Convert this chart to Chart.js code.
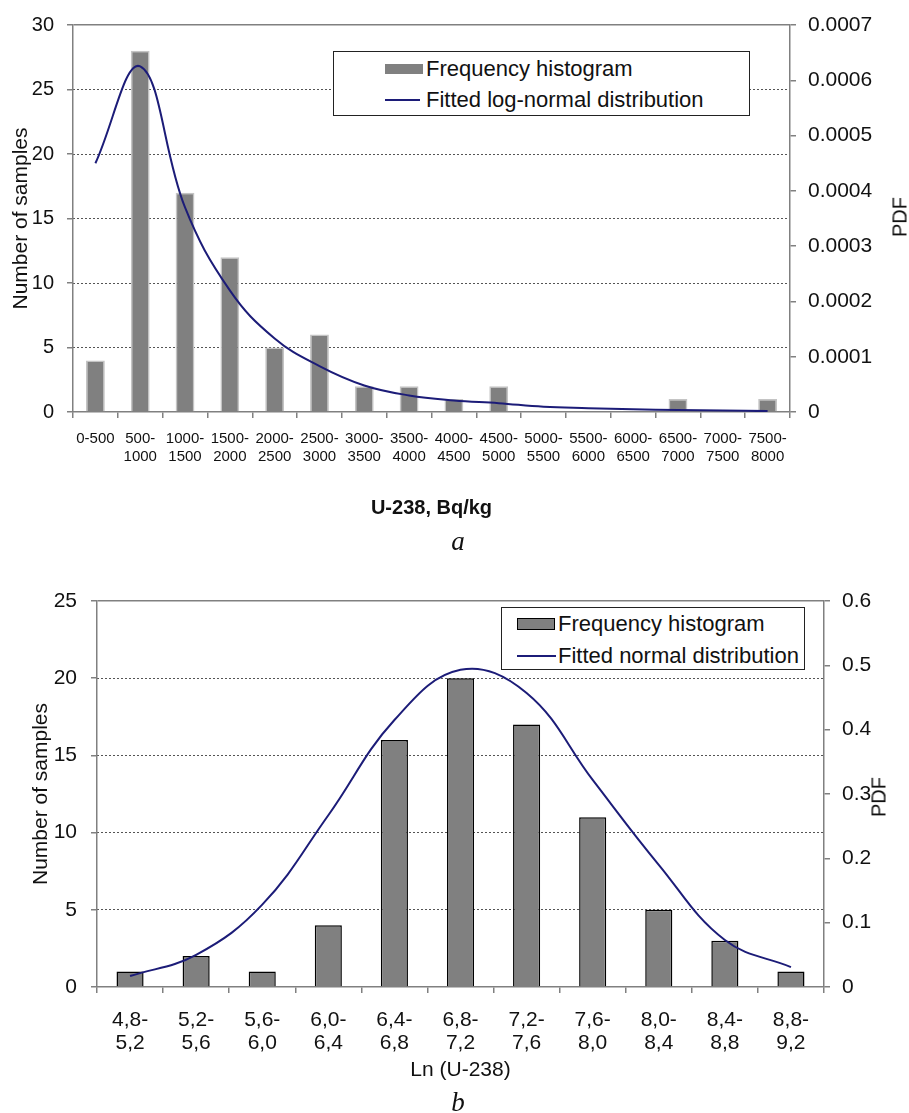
<!DOCTYPE html>
<html>
<head>
<meta charset="utf-8">
<title>U-238 histograms</title>
<script src="https://cdn.jsdelivr.net/npm/chart.js@4.4.1/dist/chart.umd.min.js"></script>
<style>
  body { margin: 0; background: #fff; width: 909px; height: 1113px; position: relative; overflow: hidden;
         font-family: 'Liberation Sans', Arial, sans-serif; color: #111; }
  .wrap { position: absolute; left: 0; width: 909px; }
  #wrap-a { top: 0; height: 530px; }
  #wrap-b { top: 560px; height: 553px; }
  .legend { position: absolute; box-sizing: border-box; border: 1px solid #222; background: #fff; font-size: 22px; }
  .legend .swatch { position: absolute; box-sizing: border-box; }
  .legend .text { position: absolute; line-height: 24px; white-space: nowrap; }
  .pdf { position: absolute; font-size: 20px; white-space: nowrap; transform: translate(-50%, -50%) rotate(-90deg); }
  .caption { position: absolute; font-family: 'Liberation Serif', 'Times New Roman', serif; font-style: italic;
             font-size: 27px; line-height: 27px; transform: translateX(-50%); }
</style>
</head>
<body>

<div class="wrap" id="wrap-a"><canvas id="chart-a"></canvas></div>
<div class="legend" id="legend-a" style="left:333px; top:51px; width:417px; height:65px;"></div>
<div class="pdf" style="left:900px; top:217px;">PDF</div>
<div class="caption" style="left:458px; top:528px;">a</div>

<div class="wrap" id="wrap-b"><canvas id="chart-b"></canvas></div>
<div class="legend" id="legend-b" style="left:501px; top:607px; width:304px; height:63px;"></div>
<div class="pdf" style="left:879px; top:797px;">PDF</div>
<div class="caption" style="left:458px; top:1089px;">b</div>

<script>
// Chart a: U-238 activity concentration, Bq/kg
const binsA = [['0-500'], ['500-', '1000'], ['1000-', '1500'], ['1500-', '2000'], ['2000-', '2500'],
  ['2500-', '3000'], ['3000-', '3500'], ['3500-', '4000'], ['4000-', '4500'], ['4500-', '5000'],
  ['5000-', '5500'], ['5500-', '6000'], ['6000-', '6500'], ['6500-', '7000'], ['7000-', '7500'], ['7500-', '8000']];
const countsA = [4, 28, 17, 12, 5, 6, 2, 2, 1, 2, 0, 0, 0, 1, 0, 1];
const pdfA = [0.00045, 0.000625, 0.00037, 0.00022, 0.000133, 0.000083, 0.000048, 0.00003,
  0.000021, 0.000016, 0.0000095, 0.000007, 0.000005, 0.0000035, 0.0000025, 0.0000016];
const countMaxA = 30, countStepA = 5;
const pdfMaxA = 0.0007, pdfStepA = 0.0001;

// Chart b: Ln (U-238)
const binsB = [['4,8-', '5,2'], ['5,2-', '5,6'], ['5,6-', '6,0'], ['6,0-', '6,4'], ['6,4-', '6,8'], ['6,8-', '7,2'],
  ['7,2-', '7,6'], ['7,6-', '8,0'], ['8,0-', '8,4'], ['8,4-', '8,8'], ['8,8-', '9,2']];
const countsB = [1, 2, 1, 4, 16, 20, 17, 11, 5, 3, 1];
const pdfB = [0.017, 0.05, 0.128, 0.267, 0.415, 0.493, 0.457, 0.322, 0.19, 0.073, 0.031];
const countMaxB = 25, countStepB = 5;
const pdfMaxB = 0.6, pdfStepB = 0.1;

const FONT = "'Liberation Sans', Arial, sans-serif";
const TEXT = '#111';
const AXIS = '#808080';
const DOTS = '#555';
const NAVY = '#1c1c78';

// hidden left axis that only draws the dotted horizontal gridlines
function dottedGrid(max, step) {
  return {
    position: 'left',
    min: 0, max: max,
    ticks: { display: false, stepSize: step },
    border: { display: false, dash: [2, 2] },
    grid: {
      drawTicks: false,
      color: ctx => (ctx.tick && ctx.tick.value > 0 && ctx.tick.value < max) ? DOTS : 'transparent'
    },
    afterFit: s => { s.width = 0; }
  };
}

function makeChart(id, cfg) {
  const ctx = document.getElementById(id).getContext('2d');
  return new Chart(ctx, {
    type: 'bar',
    data: {
      labels: cfg.labels,
      datasets: [
        {
          type: 'bar',
          label: 'Frequency histogram',
          data: cfg.counts,
          yAxisID: 'y',
          backgroundColor: '#808080',
          borderColor: cfg.barEdge,
          borderWidth: cfg.barEdgeWidth,
          barPercentage: cfg.barPct,
          categoryPercentage: 1,
          order: 1
        },
        {
          type: 'line',
          label: cfg.lineLabel,
          data: cfg.pdf,
          yAxisID: 'y1',
          borderColor: NAVY,
          borderWidth: 2,
          pointRadius: 0,
          tension: 0.4,
          fill: false,
          order: 0
        }
      ]
    },
    options: {
      responsive: true,
      maintainAspectRatio: false,
      animation: false,
      layout: { padding: { top: cfg.top, left: 0, right: 0, bottom: 0 } },
      plugins: { legend: { display: false }, tooltip: { enabled: false } },
      scales: {
        x: {
          offset: true,
          ticks: {
            autoSkip: false, maxRotation: 0, minRotation: 0, padding: cfg.xPad, color: TEXT,
            font: { family: FONT, size: cfg.xFont, lineHeight: cfg.xLine }
          },
          grid: { offset: true, drawOnChartArea: false, color: AXIS, tickLength: 6, lineWidth: 1.5 },
          border: { color: AXIS, width: 1.5 },
          title: {
            display: true, text: cfg.xTitle, color: TEXT,
            font: { family: FONT, size: cfg.xTitleFont, weight: cfg.xTitleWeight },
            padding: { top: 0, bottom: cfg.xTitlePad }
          },
          afterFit: s => { s.height = cfg.xHeight; }
        },
        grid: dottedGrid(cfg.countMax, cfg.countStep),
        y: {
          position: 'left',
          min: 0, max: cfg.countMax,
          ticks: { stepSize: cfg.countStep, padding: cfg.yPad, color: TEXT, font: { family: FONT, size: cfg.yFont } },
          grid: {
            color: ctx => (ctx.tick && ctx.tick.value === cfg.countMax) ? AXIS : 'transparent',
            tickColor: AXIS, tickLength: 6, lineWidth: 1.5
          },
          border: { color: AXIS, width: 1.5 },
          title: {
            display: true, text: 'Number of samples', color: TEXT,
            font: { family: FONT, size: 21 },
            padding: { top: cfg.yTitlePad, bottom: 0 }
          },
          afterFit: s => { s.width = cfg.left; }
        },
        y1: {
          position: 'right',
          min: 0, max: cfg.pdfMax,
          ticks: {
            stepSize: cfg.pdfStep, padding: 12, color: TEXT, font: { family: FONT, size: 21 },
            callback: v => v === 0 ? '0' : v.toFixed(cfg.pdfDigits)
          },
          grid: { drawOnChartArea: false, color: AXIS, tickLength: 6, lineWidth: 1.5 },
          border: { color: AXIS, width: 1.5 },
          afterFit: s => { s.width = cfg.right; }
        }
      }
    }
  });
}

// legend drawn as html inside the plot, built from the chart datasets
function buildLegend(chart, boxId, pos) {
  const box = document.getElementById(boxId);
  chart.data.datasets.forEach((ds, i) => {
    const sw = document.createElement('div');
    sw.className = 'swatch';
    sw.style.left = pos.swatchLeft + 'px';
    if (ds.type === 'bar') {
      sw.style.width = '38px';
      sw.style.height = pos.swatchH + 'px';
      sw.style.top = (pos.rows[i] - pos.swatchH / 2) + 'px';
      sw.style.background = ds.backgroundColor;
      if (pos.swatchBorder) sw.style.border = pos.swatchBorder;
    } else {
      sw.style.width = pos.lineW + 'px';
      sw.style.height = '2px';
      sw.style.top = (pos.rows[i] - 1) + 'px';
      sw.style.background = ds.borderColor;
    }
    box.appendChild(sw);

    const txt = document.createElement('span');
    txt.className = 'text';
    txt.textContent = ds.label;
    txt.style.left = pos.textLeft + 'px';
    txt.style.top = (pos.rows[i] - 12) + 'px';
    box.appendChild(txt);
  });
}

const chartA = makeChart('chart-a', {
  labels: binsA, counts: countsA, pdf: pdfA,
  lineLabel: 'Fitted log-normal distribution',
  barEdge: '#c4c4c4', barEdgeWidth: 1.5, barPct: 0.42,
  countMax: countMaxA, countStep: countStepA,
  pdfMax: pdfMaxA, pdfStep: pdfStepA, pdfDigits: 4,
  top: 16, left: 73, right: 119, xHeight: 118,
  xFont: 15, xLine: 1.2, xPad: 12,
  xTitle: 'U-238, Bq/kg', xTitleFont: 20, xTitleWeight: 'bold', xTitlePad: 10,
  yFont: 20, yPad: 13, yTitlePad: 9
});

const chartB = makeChart('chart-b', {
  labels: binsB, counts: countsB, pdf: pdfB,
  lineLabel: 'Fitted normal distribution',
  barEdge: '#000', barEdgeWidth: 1.5, barPct: 0.41,
  countMax: countMaxB, countStep: countStepB,
  pdfMax: pdfMaxB, pdfStep: pdfStepB, pdfDigits: 1,
  top: 41, left: 97, right: 85, xHeight: 126,
  xFont: 21, xLine: 1.1, xPad: 16,
  xTitle: 'Ln (U-238)', xTitleFont: 21, xTitleWeight: 'normal', xTitlePad: 30,
  yFont: 21, yPad: 14, yTitlePad: 29
});

buildLegend(chartA, 'legend-a', { rows: [17, 48], swatchLeft: 51, swatchH: 10, lineW: 35, textLeft: 92 });
buildLegend(chartB, 'legend-b', { rows: [16, 48], swatchLeft: 15, swatchH: 12, lineW: 39, textLeft: 56,
  swatchBorder: '1.5px solid #000' });
</script>
</body>
</html>
